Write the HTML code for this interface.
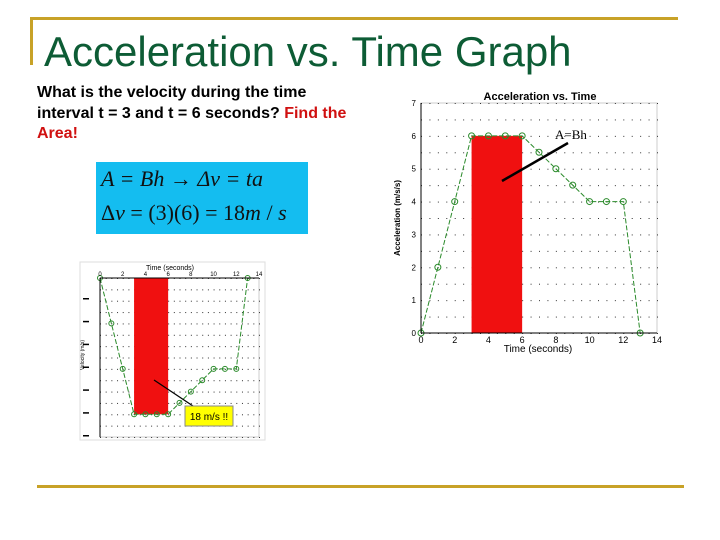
<!DOCTYPE html>
<html><head><meta charset="utf-8"><style>
body{margin:0;width:720px;height:540px;background:#fff;position:relative;overflow:hidden;font-family:"Liberation Sans",sans-serif}
.abs{position:absolute}
</style></head><body>
<div class="abs" style="left:30px;top:17px;width:648px;height:3px;background:#c8a227"></div>
<div class="abs" style="left:30px;top:17px;width:3px;height:48px;background:#c8a227"></div>
<div class="abs" style="left:37px;top:485px;width:647px;height:3px;background:#c8a227"></div>
<div class="abs" style="left:44px;top:27px;font-size:42px;color:#0d5c35;white-space:nowrap;line-height:50px">Acceleration vs. Time Graph</div>
<div class="abs" style="left:37px;top:83px;width:330px;font-size:16px;font-weight:bold;line-height:20.5px;color:#000">What is the velocity during the time interval t = 3 and t = 6 seconds? <span style="color:#d01010">Find the Area!</span></div>
<div class="abs" style="left:96px;top:162px;width:212px;height:72px;background:#14bdf0;font-family:'Liberation Serif',serif;font-size:22px;color:#111;line-height:34px;padding-left:5px;box-sizing:border-box">
<div style="font-style:italic">A = Bh → Δv = ta</div>
<div>Δ<i>v</i> = (3)(6) = 18<i>m</i> / <i>s</i></div></div>

<svg class="abs" style="left:0;top:0" width="720" height="540">
<g id="right"></g>
<g id="left"></g>
</svg>
<script>
const times=[0,1,2,3,4,5,6,7,8,9,10,11,12,13];
const accel=[0,2,4,6,6,6,6,5.5,5,4.5,4,4,4,0];
const xTicks=[0,2,4,6,8,10,12,14];
const xTickLabels=['0','2','4','6','8','10','12','14'];
const yTicks=[0,1,2,3,4,5,6,7];
const areaStart=3, areaEnd=6, areaHeight=6;
const NS='http://www.w3.org/2000/svg';
function mk(p,t,a){const e=document.createElementNS(NS,t);for(const k in a)e.setAttribute(k,a[k]);p.appendChild(e);return e;}
function draw(g,x0,x1,y0,y1,flip,big){
 const sx=v=>x0+(x1-x0)*v/14;
 const sy=v=>flip? y0+(y1-y0)*v/7 : y1-(y1-y0)*v/7;
 mk(g,'rect',{x:x0,y:y0,width:x1-x0,height:y1-y0,fill:'#fff',stroke:'#ccc'});
 for(let i=0;i<=28;i++)for(let j=0;j<=14;j++){
  mk(g,'rect',{x:sx(i/2),y:y0+(y1-y0)*j/14,width:1,height:1,fill:'#333'});
 }
 const r=mk(g,'rect',{x:sx(areaStart),y:Math.min(sy(areaHeight),sy(0)),width:sx(areaEnd)-sx(areaStart),height:Math.abs(sy(areaHeight)-sy(0)),fill:'#f01010'});
 
 let pts=times.map((t,i)=>sx(t)+','+sy(accel[i])).join(' ');
 const l=mk(g,'polyline',{points:pts,fill:'none',stroke:'#2a8a2a','stroke-width':1,'stroke-dasharray':'5,2'});
 
 times.forEach((t,i)=>{const c=mk(g,'circle',{cx:sx(t),cy:sy(accel[i]),r:big?3:2.5,fill:'none',stroke:'#2a8a2a'});
 });
 mk(g,'line',{x1:x0,y1:y0,x2:x0,y2:y1,stroke:'#000'});
 mk(g,'line',{x1:x0,y1:flip?y0:y1,x2:x1,y2:flip?y0:y1,stroke:'#000'});
 xTicks.forEach((t,i)=>{const e=mk(g,'text',{x:sx(t),y:flip?y0-2:y1+10,'text-anchor':'middle','font-size':big?9:6,fill:'#000'});e.textContent=xTickLabels[i];
 });
 if(big){yTicks.forEach(t=>{const e=mk(g,'text',{x:x0-5,y:sy(t)+3,'text-anchor':'end','font-size':8,fill:'#000'});e.textContent=t;
 });}
 else{for(let t=0;t<=6;t++)mk(g,'rect',{x:x0-17,y:y0+20+(y1-y0-22)*t/6,width:6,height:1.5,fill:'#000'});}
}
const R=document.getElementById('right');
draw(R,421,657,103,333,false,true);
let t=mk(R,'text',{x:540,y:100,'text-anchor':'middle','font-size':11,'font-weight':'bold'});t.textContent='Acceleration vs. Time';

t=mk(R,'text',{x:538,y:352,'text-anchor':'middle','font-size':10});t.textContent='Time (seconds)';

t=mk(R,'text',{x:400,y:218,'text-anchor':'middle','font-size':8,'font-weight':'bold',transform:'rotate(-90 400 218)'});t.textContent='Acceleration (m/s/s)';

t=mk(R,'text',{x:555,y:139,'font-size':13,'font-family':'Liberation Serif'});t.textContent='A=Bh';

mk(R,'line',{x1:568,y1:143,x2:502,y2:181,stroke:'#000','stroke-width':2.5});
const L=document.getElementById('left');
mk(L,'rect',{x:80,y:262,width:185,height:178,fill:'#fff',stroke:'#ddd'});
draw(L,100,259,278,437,true,false);
t=mk(L,'text',{x:170,y:270,'text-anchor':'middle','font-size':7});t.textContent='Time (seconds)';

t=mk(L,'text',{x:84,y:355,'text-anchor':'middle','font-size':5,transform:'rotate(-90 84 355)'});t.textContent='Velocity (m/s)';
mk(L,'line',{x1:154,y1:380,x2:193,y2:406,stroke:'#000','stroke-width':1.2});
mk(L,'rect',{x:185,y:406,width:48,height:20,fill:'#ffff00',stroke:'#888'});
t=mk(L,'text',{x:209,y:420,'text-anchor':'middle','font-size':10});t.textContent='18 m/s !!';

</script>
</body></html>
